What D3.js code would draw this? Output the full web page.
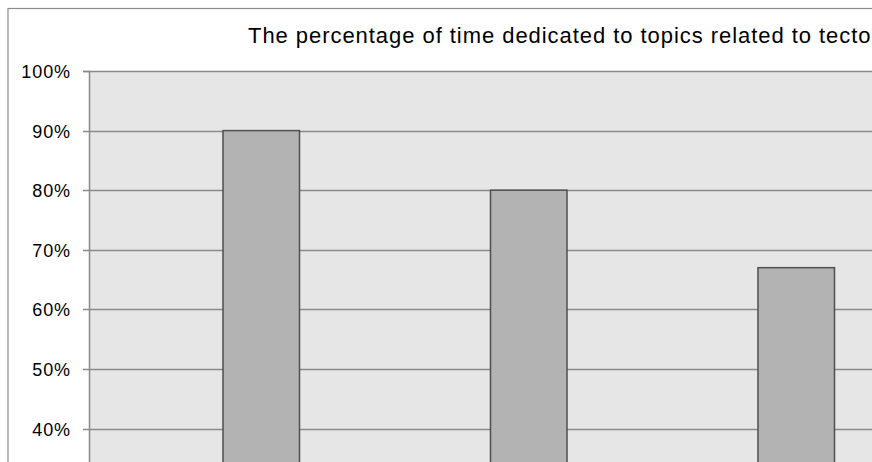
<!DOCTYPE html>
<html>
<head>
<meta charset="utf-8">
<script src="https://cdn.jsdelivr.net/npm/d3@7"></script>
<style>
  html, body { margin: 0; padding: 0; background: #fff; overflow: hidden; }
  svg { display: block; }
</style>
</head>
<body>
<svg id="chart" width="872" height="462"></svg>
<script>
// Share of lesson time spent on tectonics-related topics, per group
const categories = ["A", "B", "C"];
const values = [90, 80, 67];
const tickValues = [40, 50, 60, 70, 80, 90, 100];
const title = "The percentage of time dedicated to topics related to tectonics";

const svg = d3.select("#chart");

// chart frame
svg.append("rect")
  .attr("x", 8).attr("y", 8.5)
  .attr("width", 1200).attr("height", 800)
  .attr("fill", "#fff")
  .attr("stroke", "#8c8c8c").attr("stroke-width", 1.2);

const plot = { left: 89, top: 71, right: 1200 };

const y = d3.scaleLinear().domain([0, 100]).range([667, plot.top]);
const x = d3.scaleBand()
  .domain(categories)
  .range([127.5, 930])
  .paddingInner(0.714)
  .paddingOuter(0.357);

// plot area background
svg.append("rect")
  .attr("x", plot.left).attr("y", plot.top)
  .attr("width", plot.right - plot.left).attr("height", 800)
  .attr("fill", "#e6e6e6");

// horizontal gridlines
svg.append("g")
  .selectAll("line")
  .data(tickValues)
  .join("line")
  .attr("x1", plot.left).attr("x2", plot.right)
  .attr("y1", d => Math.round(y(d)) + 0.5)
  .attr("y2", d => Math.round(y(d)) + 0.5)
  .attr("stroke", "#8a8a8a").attr("stroke-width", 1.5);

// y axis
const yAxis = d3.axisLeft(y)
  .tickValues(tickValues)
  .tickSize(6)
  .tickPadding(12)
  .tickFormat(d => d + "%");

const gy = svg.append("g")
  .attr("transform", `translate(${plot.left},0)`)
  .call(yAxis);
gy.select(".domain").attr("stroke", "#8a8a8a").attr("stroke-width", 1.5);
gy.selectAll(".tick line").attr("stroke", "#8a8a8a").attr("stroke-width", 1.5);
gy.selectAll(".tick").attr("transform", d => `translate(0,${Math.round(y(d)) + 0.5})`);
gy.selectAll(".tick text")
  .attr("fill", "#000")
  .attr("font-family", "Liberation Sans, Arial, sans-serif")
  .attr("font-size", 18)
  .attr("letter-spacing", 0.9)
  .attr("dy", "0.34em");

// bars
svg.append("g")
  .selectAll("rect")
  .data(values)
  .join("rect")
  .attr("x", (d, i) => x(categories[i]))
  .attr("y", d => y(d))
  .attr("width", x.bandwidth())
  .attr("height", d => y(0) - y(d))
  .attr("fill", "#b3b3b3")
  .attr("stroke", "#4f4f4f")
  .attr("stroke-width", 1.5);

// title
svg.append("text")
  .attr("x", 248).attr("y", 43)
  .attr("font-family", "Liberation Sans, Arial, sans-serif")
  .attr("font-size", 22)
  .attr("letter-spacing", 0.95)
  .attr("fill", "#000")
  .text(title);
</script>
</body>
</html>
